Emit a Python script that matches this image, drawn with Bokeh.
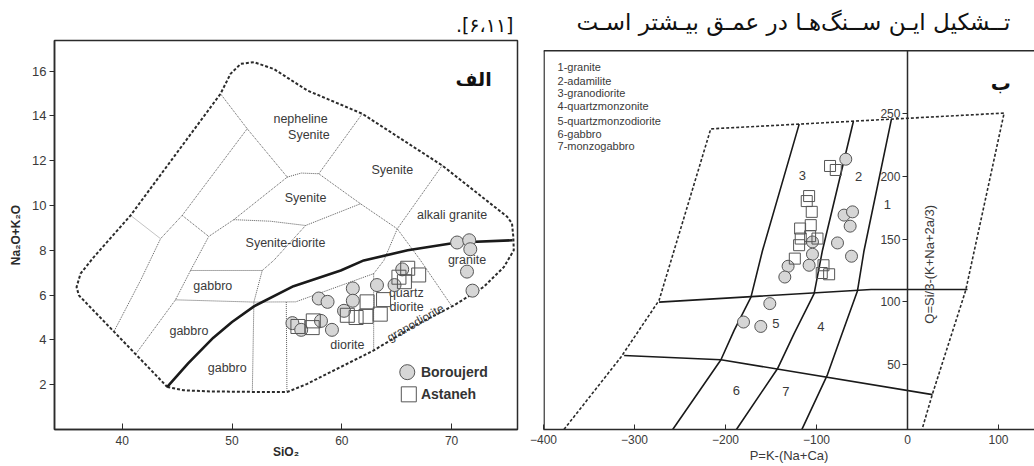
from math import pi
from bokeh.plotting import figure
from bokeh.models import Range1d, FixedTicker, Span, Title
from bokeh.layouts import row
from bokeh.embed import file_html
from bokeh.resources import INLINE
from bokeh.core.properties import value

# ---------------- data: TAS diagram (left, "الف") ----------------
bor_sio2 = [70.5, 71.6, 71.7, 71.4, 71.9, 65.5, 64.8, 63.2, 61.0, 61.0, 60.2, 57.9, 58.7, 58.1, 59.1, 55.5, 56.3]
bor_alk = [8.35, 8.45, 8.05, 7.05, 6.2, 7.15, 6.45, 6.45, 6.3, 5.75, 5.3, 5.85, 5.7, 4.85, 4.45, 4.75, 4.45]
ast_sio2 = [66.0, 65.2, 67.0, 65.7, 63.8, 62.3, 60.5, 61.3, 62.2, 63.5, 57.4, 56.0, 57.3]
ast_alk = [7.2, 6.8, 6.9, 6.6, 5.8, 5.7, 5.1, 5.0, 5.05, 5.15, 4.85, 4.6, 4.55]

tas_outer_x = [44.1, 45.6, 48.0, 51.8, 55.0, 56.85, 62.9, 66.5, 70.2, 72.9, 74.75, 75.66, 75.62, 75.5, 75.06,
               69.14, 61.86, 56.85, 53.8, 52.0, 50.8, 49.86, 48.95, 40.76, 37.41, 36.2, 35.84, 36.05, 39.24, 44.1]
tas_outer_y = [1.9, 1.75, 1.7, 1.68, 1.67, 2.04, 3.53, 4.6, 5.54, 6.36, 7.25, 8.0, 8.6, 9.2, 9.5,
               11.79, 14.1, 15.14, 16.1, 16.4, 16.33, 15.88, 14.99, 9.56, 7.7, 6.96, 6.36, 5.99, 4.37, 1.9]
tas_alk_x = [44.1, 46.0, 48.3, 50.0, 52.0, 55.6, 59.9, 62.0, 66.0, 70.5, 75.55]
tas_alk_y = [1.9, 2.95, 4.1, 4.8, 5.5, 6.4, 7.1, 7.55, 8.0, 8.35, 8.45]
tas_div_xs = [[48.95, 51.38, 55.03], [51.38, 45.46, 43.49, 41.67, 39.24],
              [55.03, 50.16, 47.88, 46.22, 44.85, 41.2], [55.03, 56.3, 57.9], [57.9, 61.86],
              [57.9, 61.7, 65.05, 67.17, 70.0], [50.16, 53.5, 56.7, 61.7], [56.7, 53.8, 52.75],
              [46.22, 52.75], [52.75, 51.99, 51.85], [44.85, 51.99, 55.8, 62.9], [54.94, 55.0],
              [62.9, 62.9], [69.14, 65.05, 63.83, 62.9], [45.46, 47.88]]
tas_div_ys = [[14.99, 13.43, 11.27], [13.43, 9.56, 8.52, 6.66, 4.37],
              [11.27, 9.37, 8.62, 7.1, 5.79, 3.35], [11.27, 11.45, 11.42], [11.42, 14.1],
              [11.42, 10.08, 8.96, 7.55, 5.52], [9.37, 9.3, 9.11, 10.08], [9.11, 7.55, 7.1],
              [7.1, 7.1], [7.1, 5.69, 1.7], [5.79, 5.69, 5.7, 6.96], [5.69, 1.67],
              [6.96, 3.53], [11.79, 8.96, 7.55, 6.96], [9.56, 8.62]]
tas_faint_x = [40.76, 43.49]
tas_faint_y = [9.56, 8.52]
tas_names = ["nepheline", "Syenite", "Syenite", "Syenite", "alkali granite", "Syenite-diorite", "granite",
             "gabbro", "gabbro", "gabbro", "quartz", "diorite", "diorite"]
tas_name_x = [56.24, 57.0, 64.6, 56.7, 70.05, 54.87, 71.4, 48.25, 46.07, 49.56, 65.87, 65.9, 60.5]
tas_name_y = [13.88, 13.17, 11.6, 10.35, 9.6, 8.32, 7.58, 6.4, 4.42, 2.74, 6.09, 5.46, 3.79]
tas_xticks = [40, 50, 60, 70]
tas_yticks = [2, 4, 6, 8, 10, 12, 14, 16]

# ---------------- data: P-Q diagram (right, "ب") ----------------
bor_p = [-67.8, -69.7, -60.4, -63.0, -76.9, -61.5, -104.4, -104.4, -108.1, -131.2, -134.8, -151.3, -180.2, -161.2]
bor_q = [213.8, 169.2, 171.8, 160.4, 147.0, 136.4, 147.8, 138.0, 129.2, 128.4, 119.8, 98.6, 83.9, 80.4]
ast_p = [-85.1, -78.8, -108.1, -110.7, -105.2, -106.3, -118.0, -117.3, -107.0, -98.9, -119.1, -123.8, -92.3, -86.1, -94.2]
ast_q = [208.4, 205.2, 184.4, 180.4, 171.8, 161.2, 158.5, 150.5, 152.4, 150.5, 145.2, 134.5, 129.2, 122.0, 123.0]

pq_outer_x = [-377.5, -315.0, -273.0, -216.2, 106.2, 64.0, 27.5, 16.0]
pq_outer_y = [-1.8, 55.8, 101.2, 238.0, 250.6, 109.2, 26.6, -1.8]
pq_line_xs = [[-273.0, -40.0, 66.0], [-311.4, -205.0, 27.5],
              [-119.0, -159.3, -172.0, -190.5, -205.0, -258.0],
              [-59.4, -93.4, -102.6, -124.6, -142.9, -188.0],
              [-17.6, -47.7, -55.0, -73.3, -87.9, -116.0]]
pq_line_ys = [[99.8, 109.8, 109.8], [57.2, 53.8, 26.0],
              [241.8, 141.0, 103.8, 77.2, 53.8, -1.8],
              [244.1, 141.2, 106.6, 74.6, 46.6, -1.8],
              [245.8, 141.0, 108.6, 71.8, 42.0, -1.8]]
pq_field_num = ["1", "2", "3", "4", "5", "6", "7"]
pq_field_p = [-22.0, -53.8, -115.4, -95.3, -144.7, -188.0, -133.7]
pq_field_q = [178.0, 200.4, 201.0, 80.4, 82.6, 29.2, 28.6]
pq_key = ["1-granite", "2-adamilite", "3-granodiorite", "4-quartzmonzonite",
          "5-quartzmonzodiorite", "6-gabbro", "7-monzogabbro"]
pq_key_q = [287.0, 276.5, 266.3, 256.3, 244.3, 234.3, 224.3]
pq_xticks = [-400, -300, -200, -100, 0, 100]
pq_yticks = [50, 100, 150, 200, 250]
PQ_TOP = 300.4

FONT = "Liberation Sans"
FA = "DejaVu Sans"
DARK = "#2b2b2b"
GRAYTXT = "#3a3a3a"
CIRC_FILL = "#d6d6d6"
MARK_LINE = "#555555"

# ---------------- left figure ----------------
p1 = figure(width=525, height=466, x_range=Range1d(33.83, 76.0), y_range=Range1d(0.0, 17.37),
            output_backend="svg", toolbar_location=None,
            min_border_left=54, min_border_right=8, min_border_top=40, min_border_bottom=37)
p1.grid.visible = False
p1.outline_line_color = DARK
p1.outline_line_width = 1.5
p1.background_fill_color = "white"
p1.border_fill_color = "white"

xa = p1.xaxis[0]
xa.ticker = FixedTicker(ticks=tas_xticks)
xa.major_tick_in = 6
xa.major_tick_out = 0
xa.minor_tick_line_color = None
xa.axis_line_color = DARK
xa.axis_line_width = 1.5
xa.major_tick_line_color = DARK
xa.major_label_text_font = FONT
xa.major_label_text_font_size = "12px"
xa.major_label_text_color = GRAYTXT
xa.major_label_standoff = 6
xa.axis_label = "SiO₂"
xa.axis_label_text_font = FONT
xa.axis_label_text_font_size = "12px"
xa.axis_label_text_font_style = "bold"
xa.axis_label_text_color = DARK
xa.axis_label_standoff = -3

ya = p1.yaxis[0]
ya.ticker = FixedTicker(ticks=tas_yticks)
ya.major_tick_in = 0
ya.major_tick_out = 5
ya.minor_tick_line_color = None
ya.axis_line_color = DARK
ya.axis_line_width = 1.5
ya.major_tick_line_color = DARK
ya.major_label_text_font = FONT
ya.major_label_text_font_size = "13px"
ya.major_label_text_color = GRAYTXT
ya.major_label_standoff = 3
ya.axis_label = "Na₂O+K₂O"
ya.axis_label_text_font = FONT
ya.axis_label_text_font_size = "12px"
ya.axis_label_text_font_style = "bold"
ya.axis_label_text_color = DARK
ya.axis_label_standoff = 6

p1.add_layout(Title(text=".[۶،۱۱]", align="right", offset=4, standoff=10, text_font=FA,
                    text_font_size="19px", text_font_style="normal", text_color="#111"), "above")

p1.multi_line(tas_div_xs, tas_div_ys, line_color="#5a5a5a", line_width=1, line_dash="1 1")
p1.line(tas_faint_x, tas_faint_y, line_color="#c4c4c4", line_width=1)
p1.line(tas_outer_x, tas_outer_y, line_color=DARK, line_width=2, line_dash="3 2")
p1.line(tas_alk_x, tas_alk_y, line_color="#1a1a1a", line_width=2.6)

p1.text(tas_name_x, tas_name_y, text=tas_names, text_font=value(FONT), text_font_size="12.5px",
        text_color=GRAYTXT, text_align="center", text_baseline="middle")
p1.text([66.71], [4.76], text=["granodiorite"], angle=0.52, text_font=value(FONT), text_font_size="12px",
        text_color=GRAYTXT, text_align="center", text_baseline="middle")

p1.scatter(bor_sio2, bor_alk, marker="circle", size=13, fill_color=CIRC_FILL, line_color=MARK_LINE, line_width=1)
p1.scatter(ast_sio2, ast_alk, marker="square", size=14, fill_alpha=0, line_color=MARK_LINE, line_width=1)

# legend (no frame, as in the source)
p1.scatter([65.96], [2.56], marker="circle", size=15, fill_color=CIRC_FILL, line_color=MARK_LINE, line_width=1)
p1.scatter([66.1], [1.57], marker="square", size=15, fill_alpha=0, line_color=MARK_LINE, line_width=1)
p1.text([67.2, 67.2], [2.56, 1.57], text=["Boroujerd", "Astaneh"], text_font=value(FONT),
        text_font_size="14px", text_font_style="bold", text_color="#333", text_baseline="middle")
p1.text([72.0], [15.66], text=["الف"], text_font=value(FA), text_font_size="19px",
        text_font_style="bold", text_color="#111", text_align="center", text_baseline="middle")

# ---------------- right figure ----------------
p2 = figure(width=509, height=466, x_range=Range1d(-400, 139.6), y_range=Range1d(-1.83, 308.5),
            output_backend="svg", toolbar_location=None,
            min_border_left=18, min_border_right=0, min_border_top=40, min_border_bottom=37)
p2.grid.visible = False
p2.outline_line_color = None
p2.background_fill_color = "white"
p2.border_fill_color = "white"

bx = p2.xaxis[0]
bx.ticker = FixedTicker(ticks=pq_xticks)
bx.major_tick_in = 5
bx.major_tick_out = 0
bx.minor_tick_line_color = None
bx.axis_line_color = DARK
bx.axis_line_width = 1.5
bx.major_tick_line_color = DARK
bx.major_label_text_font = FONT
bx.major_label_text_font_size = "12px"
bx.major_label_text_color = GRAYTXT
bx.major_label_standoff = 5
bx.axis_label = "P=K-(Na+Ca)"
bx.axis_label_text_font = FONT
bx.axis_label_text_font_size = "13px"
bx.axis_label_text_font_style = "normal"
bx.axis_label_text_color = GRAYTXT
bx.axis_label_standoff = 1

qy = p2.yaxis[0]
qy.fixed_location = 0
qy.bounds = (-1.83, PQ_TOP)
qy.ticker = FixedTicker(ticks=pq_yticks)
qy.major_tick_in = 0
qy.major_tick_out = 5
qy.minor_tick_line_color = None
qy.axis_line_color = DARK
qy.axis_line_width = 1.5
qy.major_tick_line_color = DARK
qy.major_label_text_font = FONT
qy.major_label_text_font_size = "12px"
qy.major_label_text_color = GRAYTXT
qy.major_label_standoff = 2

p2.add_layout(Span(location=PQ_TOP, dimension="width", line_color=DARK, line_width=1.5))
p2.segment(x0=[-399.4], y0=[-1.83], x1=[-399.4], y1=[PQ_TOP], line_color=DARK, line_width=1.5)

p2.add_layout(Title(text="تــشکیل ایـن ســنگ‌هـا در عمـق بیـشتر اسـت", align="right", offset=24, standoff=11,
                    text_font=FA, text_font_size="23px", text_font_style="normal", text_color="#111"), "above")

p2.line(pq_outer_x, pq_outer_y, line_color=DARK, line_width=1.6, line_dash="3 2")
p2.multi_line(pq_line_xs, pq_line_ys, line_color="#1a1a1a", line_width=1.6)

p2.text(pq_field_p, pq_field_q, text=pq_field_num, text_font=value(FONT), text_font_size="13px",
        text_color=GRAYTXT, text_align="center", text_baseline="middle")
p2.text([-384.6] * len(pq_key), pq_key_q, text=pq_key, text_font=value(FONT), text_font_size="11px",
        text_color=GRAYTXT, text_align="left", text_baseline="middle")
p2.text([24.0], [130.0], text=["Q=Si/3-(K+Na+2a/3)"], angle=pi / 2, text_font=value(FONT),
        text_font_size="13px", text_color=GRAYTXT, text_align="center", text_baseline="middle")
p2.text([102.5], [274.6], text=["ب"], text_font=value(FA), text_font_size="20px",
        text_font_style="bold", text_color="#111", text_align="center", text_baseline="middle")

p2.scatter(bor_p, bor_q, marker="circle", size=12, fill_color=CIRC_FILL, line_color=MARK_LINE, line_width=1)
p2.scatter(ast_p, ast_q, marker="square", size=11, fill_alpha=0, line_color=MARK_LINE, line_width=1)

layout = row(p1, p2)
open("out.html", "w").write(file_html(layout, INLINE))
